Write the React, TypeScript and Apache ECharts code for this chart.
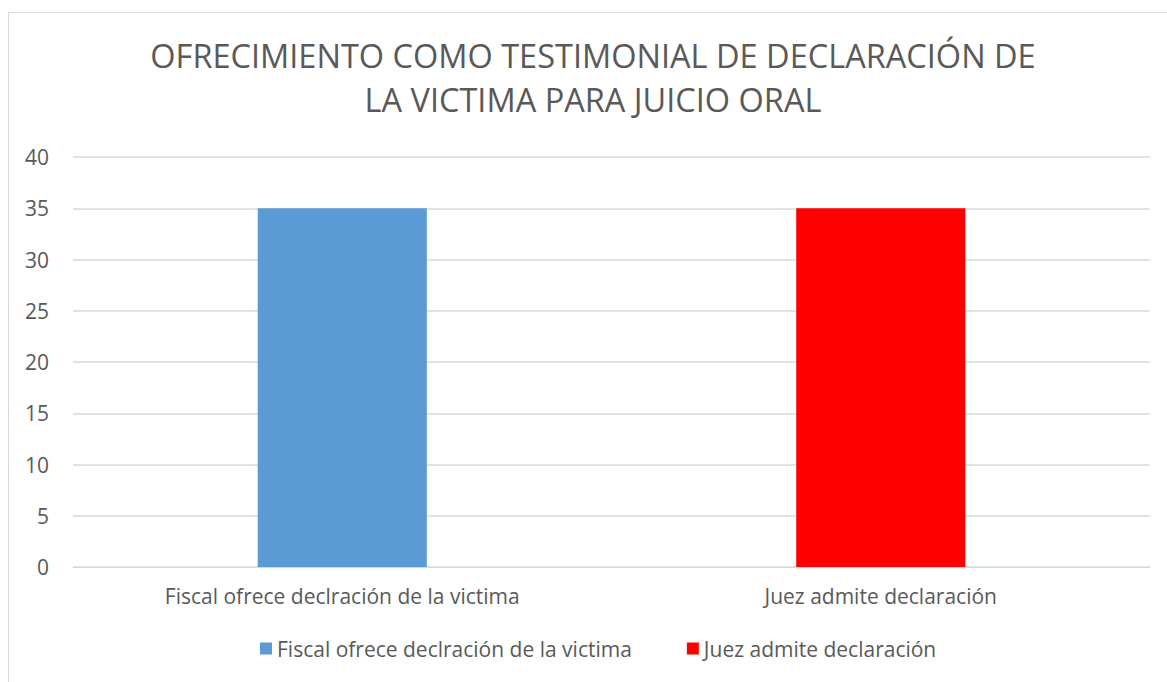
import React, { useEffect, useRef } from "react";
import * as echarts from "echarts";

const categories = ["Fiscal ofrece declración de la victima", "Juez admite declaración"];
const seriesNames = ["Fiscal ofrece declración de la victima", "Juez admite declaración"];
const seriesValues = [35, 35];
const seriesColors = ["#5B9BD5", "#FF0000"];
const titleText = "OFRECIMIENTO COMO TESTIMONIAL DE DECLARACIÓN DE\nLA VICTIMA PARA JUICIO ORAL";
const FONT = "'Open Sans', 'Noto Sans', sans-serif";

export default function App() {
  const ref = useRef<HTMLDivElement>(null);
  useEffect(() => {
    document.body.style.margin = "0";
    const chart = echarts.init(ref.current!, null, { renderer: "svg" });
    const series = seriesNames.map((name, i) => ({
      name,
      type: "bar",
      stack: "all",
      barWidth: "31.4%",
      itemStyle: { color: seriesColors[i] },
      data: categories.map((_, j) => (j === i ? seriesValues[i] : null)),
    }));
    chart.setOption({
      animation: false,
      backgroundColor: "#ffffff",
      textStyle: { fontFamily: FONT },
      title: {
        text: titleText,
        left: 588,
        textAlign: "center",
        top: 28,
        textStyle: {
          fontFamily: FONT,
          fontSize: 32.5,
          fontWeight: "normal",
          color: "#595959",
          lineHeight: 44,
        },
      },
      graphic: [
        {
          type: "rect",
          shape: { x: 8.5, y: 12.5, width: 1300, height: 800 },
          style: { fill: "none", stroke: "#d9d9d9", lineWidth: 1 },
          silent: true,
        },
      ],
      grid: { left: 73, right: 17, top: 157, bottom: 115 },
      xAxis: {
        type: "category",
        data: categories,
        axisLine: { show: true, lineStyle: { color: "#d9d9d9" } },
        axisTick: { show: false },
        axisLabel: { color: "#595959", fontSize: 21, margin: 18, fontFamily: FONT },
      },
      yAxis: {
        type: "value",
        min: 0,
        max: 40,
        interval: 5,
        axisLine: { show: false },
        axisTick: { show: false },
        axisLabel: { color: "#595959", fontSize: 21, margin: 24, fontFamily: FONT },
        splitLine: { lineStyle: { color: "#d9d9d9", width: 1.5 } },
      },
      legend: {
        bottom: 18,
        left: 255,
        icon: "rect",
        itemWidth: 12,
        itemHeight: 12,
        itemGap: 55,
        textStyle: { color: "#595959", fontSize: 21, fontFamily: FONT },
        data: seriesNames,
      },
      series,
    });
    return () => chart.dispose();
  }, []);
  return <div ref={ref} style={{ width: 1167, height: 682 }} />;
}
